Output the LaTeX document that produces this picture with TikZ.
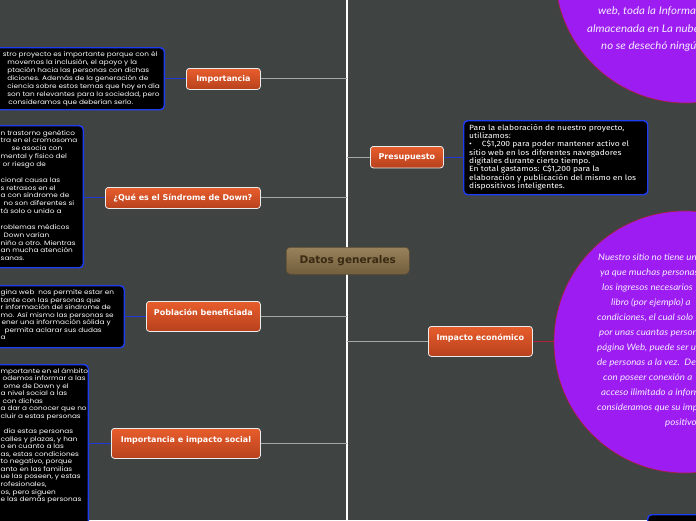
\documentclass[tikz,border=0pt]{standalone}
\usepackage{fontspec}
\setmainfont{DejaVu Sans}
\newfontfamily\nodefont{DejaVu Sans}
\newfontfamily\boxfont{Poppins}[FakeStretch=1.16]
\newfontfamily\presfont{Fira Sans}[FakeStretch=1.13]
\newfontfamily\circfont{Lato}[FakeStretch=1.08]
\definecolor{bgc}{HTML}{3F4443}
\definecolor{orgT}{HTML}{E85D2C}
\definecolor{orgB}{HTML}{B7411D}
\definecolor{dgT}{HTML}{97825B}
\definecolor{dgB}{HTML}{735E3D}
\definecolor{dgtext}{HTML}{3B2A13}
\definecolor{boxblue}{HTML}{1E3CF0}
\definecolor{linkblue}{HTML}{2238D8}
\definecolor{graylink}{HTML}{A3A8A8}
\definecolor{violet}{HTML}{9D1CF2}
\definecolor{violetedge}{HTML}{B0203A}
\definecolor{ctextc}{HTML}{F4ECFF}
\begin{document}
\begin{tikzpicture}[x=1pt,y=-1pt,
  onode/.style={draw=white!85!gray, line width=0.8pt, rounded corners=3pt,
    top color=orgT, bottom color=orgB, text=white, anchor=north west, inner sep=0pt,
    font=\nodefont\bfseries\fontsize{8}{9.6}\selectfont, text height=5.8pt, text depth=1.6pt},
  tallnode/.style={text depth=8.6pt},
  tbox/.style={draw=boxblue, line width=1.4pt, fill=black, rounded corners=4pt, inner sep=0pt},
  btext/.style={text=white, align=left, inner sep=0pt, anchor=north west,
    font=\boxfont\fontsize{6.3}{7.8}\selectfont},
  ctext/.style={text=ctextc, align=left, inner sep=0pt, anchor=north west},
  trunk/.style={draw=white, line width=2pt},
  glink/.style={draw=graylink, line width=0.9pt},
  blink/.style={draw=linkblue, line width=0.9pt},
  rlink/.style={draw=violetedge, line width=0.6pt}
]
\useasboundingbox (0,0) rectangle (696,520);
\clip (0,0) rectangle (696,520);
\fill[bgc] (0,0) rectangle (696,520);

% trunk
\coordinate (tT) at (347,0);
\coordinate (tB) at (347,520);
\draw[trunk] (tT) -- (tB);

% circles
\node[circle, fill=violet, draw=violetedge, line width=0.6pt, minimum size=262pt, inner sep=0pt] (c1) at (686,-28) {};
\node[circle, fill=violet, draw=violetedge, line width=0.6pt, minimum size=262pt, inner sep=0pt] (c2) at (685,342) {};

% main topic
\node[draw=dgB!80!black, line width=0.5pt, rounded corners=4pt, top color=dgT, bottom color=dgB,
  text=dgtext, anchor=north west, inner sep=0pt, minimum width=123pt, minimum height=27pt,
  font=\nodefont\bfseries\fontsize{10.5}{12}\selectfont] (dg) at (286,247) {Datos generales};

% branch nodes
\node[onode, minimum width=74pt, minimum height=21pt] (imp) at (186,68) {Importancia};
\node[onode, minimum width=155pt, minimum height=21pt] (que) at (105,187) {¿Qué es el Síndrome de Down?};
\node[onode, tallnode, minimum width=114pt, minimum height=30pt] (pob) at (146,301) {Población beneficiada};
\node[onode, tallnode, minimum width=149pt, minimum height=30pt] (ims) at (111,428) {Importancia e impacto social};
\node[onode, minimum width=73pt, minimum height=21.5pt] (pres) at (370,146) {Presupuesto};
\node[onode, tallnode, minimum width=104pt, minimum height=30pt] (ie) at (428,326) {Impacto económico};

% text boxes
\node[tbox, anchor=north east, minimum width=180pt, minimum height=62pt] (b1) at (165,47) {};
\node[tbox, anchor=north east, minimum width=100pt, minimum height=142pt] (b2) at (84,125) {};
\node[tbox, anchor=north east, minimum width=140pt, minimum height=62pt] (b3) at (125,285) {};
\node[tbox, anchor=north east, minimum width=100pt, minimum height=180pt] (b4) at (89,364) {};
\node[tbox, anchor=north west, minimum width=184pt, minimum height=74pt] (bp) at (463,120) {};
\node[tbox, anchor=north west, minimum width=70pt, minimum height=30pt] (b5) at (647,514) {};

% connectors
\draw[glink] (imp.east) -- (imp.east -| tT);
\draw[glink] (que.east) -- (que.east -| tT);
\draw[glink] (pob.east) -- (pob.east -| tT);
\draw[glink] (ims.east) -- (ims.east -| tT);
\draw[glink] (pres.west) -- (pres.west -| tT);
\draw[glink] (ie.west) -- (ie.west -| tT);
\draw[blink] (imp.west) -- (imp.west -| b1.east);
\draw[blink] (que.west) -- (que.west -| b2.east);
\draw[blink] (pob.west) -- (pob.west -| b3.east);
\draw[blink] (ims.west) -- (ims.west -| b4.east);
\draw[blink] (pres.east) -- (pres.east -| bp.west);
\draw[rlink] (ie.east) -- (ie.east -| c2.west);

% box texts
\node[btext, font=\boxfont\fontsize{6.3}{8}\selectfont] (b1t) at (2.7,51) {%
stro proyecto es importante porque con él\\
\hspace*{4.5pt}movemos la inclusión, el apoyo y la\\
\hspace*{4.5pt}ptación hacia las personas con dichas\\
\hspace*{4.5pt}diciones. Además de la generación de\\
\hspace*{4.5pt}ciencia sobre estos temas que hoy en día\\
\hspace*{4.5pt}son tan relevantes para la sociedad, pero\\
\hspace*{5.5pt}consideramos que deberían serlo.};

\node[btext, font=\boxfont\fontsize{6.3}{7.85}\selectfont] (b2t) at (0.5,130) {%
n trastorno genético\\
tra en el cromosoma\\
\hspace*{11pt}se asocia con\\
mental y físico del\\
\hspace*{2pt}or riesgo de\\
\mbox{}\\
cional causa las\\
s retrasos en el\\
a con síndrome de\\
\hspace*{3pt}no son diferentes si\\
tá solo o unido a\\
\mbox{}\\
roblemas médicos\\
\hspace*{3pt}Down varían\\
niño a otro. Mientras\\
an mucha atención\\
sanas.};

\node[btext, font=\boxfont\fontsize{6.3}{7.5}\selectfont] (b3t) at (0.5,289.5) {%
gina web\ \ nos permite estar en\\
tante con las personas que\\
r información del síndrome de\\
mo. Así mismo las personas se\\
\hspace*{1pt}ener una información sólida y\\
\hspace*{4pt}permita aclarar sus dudas\\
a};

\node[btext, font=\boxfont\fontsize{6.3}{7.56}\selectfont] (b4t) at (0.5,368) {%
mportante en el ámbito\\
\hspace*{2pt}odemos informar a las\\
\hspace*{3pt}ome de Down y el\\
a nivel social a las\\
\hspace*{2pt}con dichas\\
a dar a conocer que no\\
cluir a estas personas\\
\mbox{}\\
\hspace*{3pt}día estas personas\\
calles y plazas, y han\\
o en cuanto a las\\
as, estas condiciones\\
to negativo, porque\\
anto en las familias\\
ue las poseen, y estas\\
rofesionales,\\
os, pero siguen\\
e las demás personas};

\node[btext, font=\presfont\fontsize{7.5}{8.3}\selectfont] (bpt) at (469,124) {%
Para la elaboración de nuestro proyecto,\\
utilizamos:\\
•\hspace*{10pt}C\$1,200 para poder mantener activo el\\
sitio web en los diferentes navegadores\\
digitales durante cierto tiempo.\\
En total gastamos: C\$1,200 para la\\
elaboración y publicación del mismo en los\\
dispositivos inteligentes.};

% circle texts
\node[ctext, font=\circfont\itshape\fontsize{10.6}{17.7}\selectfont] (c1t) at (587,6.5) {%
\hspace*{11pt}web, toda la Información\\
almacenada en La nube\\
\hspace*{14pt}no se desechó ningún};

\node[ctext, font=\circfont\itshape\fontsize{9}{15}\selectfont] (c2t) at (597,253.5) {%
\hspace*{1pt}Nuestro sitio no tiene un\\
\hspace*{3pt}ya que muchas personas\\
\hspace*{5pt}los ingresos necesarios\\
\hspace*{14pt}libro (por ejemplo) a\\
condiciones, el cual solo\\
\hspace*{2pt}por unas cuantas personas\\
página Web, puede ser u\\
de personas a la vez.\ \ De\\
\hspace*{6pt}con poseer conexión a\\
\hspace*{4pt}acceso ilimitado a información\\
consideramos que su importancia\\
\hspace*{68pt}positivo};
\end{tikzpicture}
\end{document}
